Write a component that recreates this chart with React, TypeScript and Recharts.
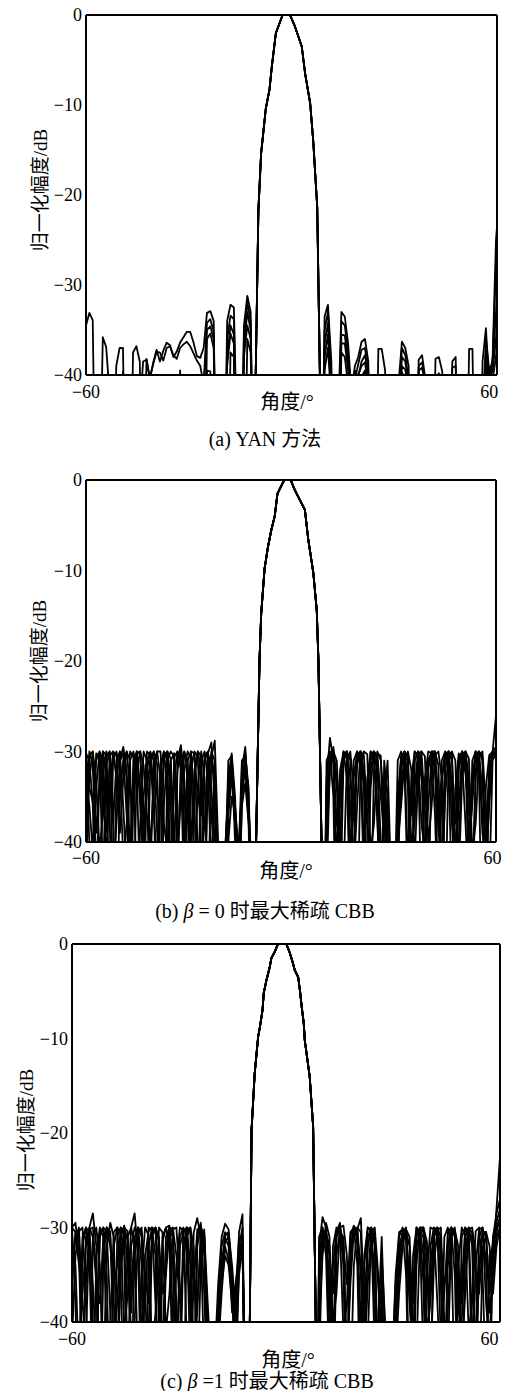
import { LineChart, Line, XAxis, YAxis, ReferenceLine } from 'recharts';

// angle grid of the sidelobe regions (deg)
const leftAngles = [
  -60, -59, -58, -57, -56, -55, -54, -53, -52, -51,
  -50, -49, -48, -47, -46, -45, -44, -43, -42, -41,
  -40, -39, -38, -37, -36, -35, -34, -33, -32, -31,
  -30, -29, -28, -27, -26, -25, -24, -23, -22, -21,
  -20, -19, -18, -17, -16, -15, -14, -13, -12, -11,
];
const rightAngles = [
  11, 12, 13, 14, 15, 16, 17, 18, 19, 20,
  21, 22, 23, 24, 25, 26, 27, 28, 29, 30,
  31, 32, 33, 34, 35, 36, 37, 38, 39, 40,
  41, 42, 43, 44, 45, 46, 47, 48, 49, 50,
  51, 52, 53, 54, 55, 56, 57, 58, 59, 60,
  61, 62, 63,
];

const yTicks = [0, -10, -20, -30, -40];
const xTicks = [-60, 60];

// main lobe, shared by every trace of a panel
const mainAnglesA = [-10, -9.5, -8.7, -7.9, -6.5, -5.4, -4.7, -3.5, -2.8, -1.5, 0.7, 2.2, 4.2, 5.2, 6.7, 7.6, 8.8, 9.6, 10];
const mainLobeA = [-60, -40, -21.7, -15.4, -10.4, -8.3, -5.7, -2, -1.3, 0, 0, -1.3, -3.5, -6.5, -9.8, -13.9, -21.3, -40, -60];

const mainAnglesB = [-10, -9.8, -8.8, -8.3, -7.3, -6.3, -5.3, -4.3, -3.5, -1.5, 0.4, 1.6, 3.1, 4.6, 5.6, 7.1, 8.1, 8.6, 9.5, 10];
const mainLobeB = [-60, -40, -20, -14.8, -9.8, -7.4, -5.5, -4, -1.5, 0, 0, -1.1, -2.2, -3.3, -6.6, -10.3, -14.4, -20, -40, -60];

const mainAnglesC = [-10, -8.9, -8.4, -7.5, -6.5, -6, -5.25, -4.9, -4.1, -3.15, -2.7, -1.7, -0.8, 1.6, 2.6, 3.4, 4, 5, 5.5, 6, 6.6, 6.9, 8.3, 9.3, 10.05, 10.5];
const mainLobeC = [-55, -40, -19.7, -13.7, -9.8, -8.8, -7, -5.2, -3.8, -2.4, -1.5, -0.8, 0, 0, -0.95, -1.9, -2.75, -3.5, -4.9, -6.6, -8.4, -10.2, -14, -19.3, -40, -55];

// (a) YAN
const yanLeft = [
  [-34.5, -33.1, -33.9, -60, -55, -35.8, -36.9, -42, -60, -39,
    -37, -37, -60, -60, -37.5, -36.8, -38.5, -60, -38.2, -40.5,
    -38.6, -37.2, -38.5, -37.3, -36.4, -36.7, -38, -37.4, -36.4, -35.8,
    -35.2, -35.2, -36.4, -37.9, -38.1, -37, -33.1, -32.9, -34, -60,
    -60, -60, -34, -32.2, -32.5, -48, -60, -34.5, -31.2, -33],
  [-60, -60, -60, -60, -60, -60, -60, -60, -60, -60,
    -60, -60, -60, -60, -60, -60, -44, -38.5, -38.3, -40.3,
    -38.8, -37.4, -37.5, -38.4, -37, -36.8, -37.8, -38.2, -37, -36.6,
    -36.3, -36.8, -37.6, -38.4, -39, -41, -34.2, -33.8, -35.2, -60,
    -60, -60, -36, -33.4, -33.8, -50, -60, -35.5, -32, -34],
  [-60, -60, -60, -60, -60, -60, -60, -60, -60, -60,
    -60, -39.6, -60, -60, -60, -60, -60, -60, -60, -60,
    -60, -60, -60, -60, -60, -60, -60, -60, -39.5, -60,
    -60, -60, -60, -60, -60, -42, -35, -34.6, -36, -60,
    -60, -60, -38, -34.5, -35.5, -60, -60, -37, -33, -35],
  [-60, -60, -60, -60, -60, -60, -60, -60, -60, -60,
    -60, -60, -60, -60, -60, -60, -60, -60, -60, -60,
    -60, -60, -60, -60, -60, -60, -60, -60, -60, -60,
    -60, -60, -60, -60, -60, -60, -36, -35.4, -37, -60,
    -60, -60, -39, -35.4, -36.5, -60, -60, -38, -34.5, -36],
  [-60, -60, -60, -60, -60, -60, -60, -60, -60, -60,
    -60, -60, -60, -60, -60, -60, -60, -60, -60, -60,
    -60, -60, -60, -60, -60, -60, -60, -60, -60, -60,
    -60, -60, -60, -60, -60, -60, -39.5, -39.6, -60, -60,
    -60, -60, -60, -37.5, -38, -60, -60, -60, -36, -37.5],
];
const yanRight = [
  [-33.5, -32.2, -38.5, -60, -45, -33, -33.5, -36.5, -42, -39,
    -38, -36.3, -36, -38.5, -60, -60, -37.1, -37.1, -39.5, -60,
    -60, -60, -41, -36.3, -37, -39, -60, -60, -38.3, -37.8,
    -40.5, -60, -60, -38.2, -38, -39.6, -60, -60, -38.5, -38,
    -60, -60, -60, -37.1, -37.1, -60, -60, -38.5, -34.8, -41,
    -38, -25, -20],
  [-35, -33, -40, -60, -48, -34, -34.5, -37.5, -44, -40.5,
    -38.8, -37.2, -37, -39.5, -60, -60, -60, -60, -60, -60,
    -60, -60, -44, -37, -37.8, -40.5, -60, -60, -39, -38.6,
    -41, -60, -60, -40.5, -39.8, -60, -60, -60, -39.2, -39,
    -60, -60, -60, -60, -60, -60, -60, -45, -36, -39.5,
    -38.5, -28, -24],
  [-36.5, -34.2, -41, -60, -50, -35.5, -35.6, -38.5, -41, -39.5,
    -40.2, -38.5, -37.8, -40, -60, -60, -60, -60, -60, -60,
    -60, -60, -45, -38, -38.5, -41, -60, -60, -39.5, -39.2,
    -41, -60, -60, -60, -60, -60, -60, -60, -60, -60,
    -60, -60, -60, -60, -60, -60, -60, -50, -37.5, -40,
    -39, -33, -28],
  [-38, -35.5, -42, -60, -52, -36.5, -36.5, -39.5, -45, -41,
    -40, -39, -38.6, -41, -60, -60, -60, -60, -60, -60,
    -60, -60, -46, -39, -39.4, -42, -60, -60, -60, -60,
    -60, -60, -60, -60, -60, -60, -60, -60, -60, -60,
    -60, -60, -60, -60, -60, -60, -60, -60, -38.8, -40.5,
    -39.5, -36, -30],
  [-39.5, -37, -43, -60, -55, -37.5, -38, -41, -60, -60,
    -41, -40.2, -39.5, -42, -60, -60, -60, -60, -60, -60,
    -60, -60, -60, -39.7, -40.5, -60, -60, -60, -60, -60,
    -60, -60, -60, -60, -60, -60, -60, -60, -60, -60,
    -60, -60, -60, -60, -60, -60, -60, -60, -39.5, -41,
    -40.5, -38, -34],
];

// (b) beta = 0
const cbb0Left = [
  [-30.2, -31, -36, -48, -31.5, -30, -30.4, -38, -52, -33,
    -30, -30.5, -37, -45, -31, -30, -34, -50, -32, -30.1,
    -31, -39, -44, -30.5, -30, -35, -58, -31, -29.3, -33,
    -46, -32, -30, -30.6, -42, -38, -30.2, -29, -36, -55,
    -48, -42, -33, -30.2, -35, -50, -36, -30, -35, -52],
  [-36, -30, -31.5, -42, -50, -32, -30, -31, -45, -38,
    -31, -30.2, -33, -55, -34, -30, -30.3, -40, -47, -31,
    -30, -31.4, -50, -36, -30, -30.8, -39, -44, -31, -30,
    -33, -60, -33, -30, -32, -50, -31, -30.4, -33, -46,
    -55, -45, -31, -30.5, -38, -46, -32, -29.5, -36, -48],
  [-40, -33, -30, -33, -41, -37, -30.5, -30, -38, -31,
    -30, -36, -44, -31, -30, -32.5, -46, -35, -30, -30.4,
    -37, -42, -31.5, -30, -34, -52, -30.6, -30, -31, -47,
    -35, -30, -30.2, -41, -44, -31, -30, -37, -42, -44,
    -47, -60, -34, -31, -36, -42, -31, -30.5, -34, -50],
  [-30, -34, -35.5, -31, -30, -36, -39, -30.5, -30, -33,
    -35, -31, -30, -34, -36.5, -30.2, -30, -38, -34, -31,
    -30, -35, -37, -30.4, -30, -33, -40, -32, -30, -34,
    -38, -31, -30.5, -35, -37, -30.4, -30, -34, -40, -45,
    -42, -50, -36, -32, -38, -44, -33, -31, -37, -46],
  [-45, -30.4, -30, -39, -34, -30, -33, -48, -30.8, -30,
    -32, -42, -38, -30, -30.6, -47, -38, -30, -31, -41,
    -33, -30, -30, -38, -41, -31, -30.2, -36, -60, -32,
    -30, -30.8, -45, -34, -30, -33, -48, -30.6, -28.8, -40,
    -60, -41, -35, -30.8, -40, -43, -33.5, -31, -38, -60],
  [-33, -36, -41, -30.2, -30.5, -44, -31.5, -30, -36, -58,
    -31, -29.5, -32, -41, -32, -30, -36, -42, -31, -30,
    -34, -55, -32, -30, -31, -44, -33, -30, -32, -40,
    -31, -30, -36, -47, -31, -30, -33, -43, -31.5, -45,
    -50, -46, -37, -33, -36, -41, -34.5, -32, -36, -44],
  [-31, -40, -47, -34, -30, -31, -42, -34, -30, -30.5,
    -39, -33, -30, -31, -48, -32, -30, -31.5, -37, -44,
    -31, -30, -33, -56, -31, -30, -30.5, -42, -35, -30,
    -31, -40, -32, -30, -30.5, -45, -33, -30, -31, -48,
    -44, -55, -40, -35, -37, -47, -36, -33.5, -38, -45],
];
const cbb0Right = [
  [-33, -28.5, -31, -42, -32, -30, -33, -48, -31, -30,
    -30.5, -40, -35, -30, -30.2, -38, -47, -33, -41, -50,
    -55, -35, -30.5, -30, -34, -50, -31, -30, -31.5, -44,
    -32, -30, -30, -39, -41, -30.5, -30, -34, -52, -31,
    -30, -30.5, -40, -36, -30, -30.2, -37, -48, -31, -30,
    -26, -23, -21],
  [-45, -31, -29.5, -33, -48, -31, -30, -31, -44, -36,
    -30, -30.4, -37, -49, -32, -30, -31, -36, -48, -60,
    -60, -44, -32, -30, -30.5, -40, -38, -30.2, -30, -36,
    -48, -31, -30, -31.5, -45, -35, -30, -30.3, -40, -40,
    -31, -30, -33, -50, -32, -30, -30.6, -43, -36, -30,
    -29.5, -28, -27],
  [-38, -30, -30.5, -38, -40, -30.5, -30, -36, -42, -31,
    -30, -32, -45, -34, -30, -31, -40, -42, -34, -45,
    -48, -31, -30, -32, -46, -33, -30, -30.4, -38, -41,
    -31, -30, -31, -47, -33, -30, -30.5, -38, -44, -32,
    -30, -31, -45, -34, -30, -30.4, -39, -42, -32, -30,
    -30.5, -31, -32],
  [-36, -31, -30, -34, -36, -30.2, -30, -33, -37, -31.5,
    -30, -33, -38, -32, -30, -30.5, -35, -39, -40, -44,
    -46, -38, -31, -30, -33, -37, -31, -30, -33, -36,
    -31, -30.2, -32, -36, -33, -30.4, -30, -34, -38, -31,
    -30, -32.5, -37, -33, -30, -30.6, -34, -38, -33, -30.2,
    -30, -30.5, -31],
  [-31, -30, -35, -55, -33, -30.5, -30, -40, -37, -30.4,
    -30, -34, -50, -31, -30, -30.8, -46, -36, -31, -44,
    -52, -37, -30.6, -30.3, -42, -36, -30, -30.6, -47, -33,
    -30, -30.2, -37, -50, -31, -30, -32, -46, -34, -30.2,
    -31, -38, -46, -31, -30, -33, -55, -34, -30.4, -30,
    -30, -30, -30],
  [-40, -32, -30, -31, -39, -44, -31, -30, -34, -52,
    -32, -30, -30.3, -41, -38, -30.2, -30.5, -43, -37, -48,
    -44, -41, -34, -30.5, -31, -45, -34, -30, -31, -43,
    -36, -30.5, -30, -35, -52, -32, -30, -31, -42, -36,
    -30.3, -30, -35, -44, -33, -30, -31, -45, -35, -30.5,
    -30, -29.5, -29],
  [-34, -30.5, -31, -45, -35, -30, -30.8, -42, -33, -30,
    -31, -44, -33, -30, -31, -36, -55, -31, -35, -47,
    -50, -40, -36, -31, -30, -32, -42, -33, -30, -30.5,
    -40, -36, -30.4, -30, -33, -49, -31, -30, -31, -44,
    -33, -30, -30.8, -41, -38, -30.5, -30, -36, -45, -31,
    -30.2, -30, -30],
];

// (c) beta = 1
const cbb1Left = [
  [-30, -29.5, -33, -47, -31, -30.2, -36, -44, -30.5, -30,
    -35, -52, -32, -30, -30.6, -41, -37, -30, -28.5, -33,
    -49, -33, -30.4, -30, -38, -45, -31, -30, -32, -46,
    -34, -30, -30.3, -42, -40, -30.5, -29, -31, -45, -50,
    -55, -44, -36, -31, -29.6, -30.2, -35, -41, -30.5, -28.6],
  [-32, -34, -45, -31, -30, -30.5, -40, -46, -31, -30,
    -30.5, -39, -48, -31, -30, -33, -52, -32, -30, -30.8,
    -41, -38, -30, -30.2, -33, -55, -31.5, -30, -29.8, -40,
    -47, -31, -30, -31, -44, -36, -30.2, -30, -37, -48,
    -46, -50, -38, -32, -30.5, -31, -37, -45, -32, -30],
  [-36, -31, -30, -38, -42, -30, -28.5, -32, -50, -33,
    -30, -30.4, -43, -38, -30, -30.5, -44, -36, -31, -30,
    -34, -56, -32, -30, -30.3, -40, -43, -31, -30, -34,
    -51, -32, -30.5, -30, -39, -47, -31, -29.5, -33, -44,
    -58, -47, -40, -34, -31, -32, -39, -37, -31, -31.5],
  [-30, -30.5, -34, -37, -32, -30, -31, -36, -38, -31,
    -30, -32, -36, -34, -30.4, -30, -34, -39, -32, -30,
    -30.5, -35, -38, -31, -30, -31.5, -37, -35, -30.2, -30,
    -33, -38, -34, -30.2, -30, -35, -38, -32, -30.5, -38,
    -45, -52, -41, -36, -33, -34, -38, -36, -33, -32.5],
  [-42, -33, -30.4, -30, -37, -52, -31, -30, -34, -47,
    -32, -29.5, -31, -46, -35, -30, -30.4, -42, -40, -30.4,
    -30, -36, -48, -31, -30, -31, -47, -34, -30, -30.6,
    -41, -44, -30.4, -30, -34, -55, -32, -30, -30.8, -42,
    -50, -45, -43, -37, -32, -33.5, -36, -48, -34, -31],
  [-30, -38, -55, -32, -30, -33, -49, -33, -30, -31,
    -41, -40, -30.5, -30, -36, -48, -31, -30, -32, -45,
    -35, -30, -30.8, -43, -39, -30, -30.5, -41, -37, -30.2,
    -30, -36, -50, -31, -30, -32, -48, -34, -30.2, -44,
    -52, -48, -39, -34, -31.5, -31, -35, -43, -35, -32],
  [-34, -30.5, -31, -44, -36, -30.2, -30, -35, -58, -32,
    -30, -31, -38, -44, -31, -29.8, -31.5, -47, -33, -30,
    -31, -44, -41, -30.5, -30, -36, -50, -32, -30.3, -31,
    -38, -48, -32, -30, -30.6, -44, -39, -30.3, -31, -40,
    -47, -53, -42, -35, -30.8, -30.5, -34, -39, -33, -30.8],
];
const cbb1Right = [
  [-32, -28.9, -30, -36, -47, -31, -30, -31.5, -44, -34,
    -30, -30.2, -29, -38, -42, -30.5, -30, -35, -50, -46,
    -55, -48, -42, -33, -30.5, -30, -37, -45, -31, -30,
    -30.5, -41, -38, -30.2, -30, -33, -52, -32, -30, -30.6,
    -43, -36, -30, -30.4, -40, -42, -31, -30, -34, -48,
    -33, -28, -22.5],
  [-45, -31, -30.5, -32, -40, -37, -30, -29.8, -33, -48,
    -34, -30, -30.5, -44, -36, -30, -30.8, -47, -38, -44,
    -58, -52, -38, -31, -30, -31, -48, -36, -30, -30.3,
    -36, -52, -32, -30, -30.4, -42, -37, -30.5, -30, -35,
    -50, -31, -30, -31, -46, -34, -30.2, -30, -38, -43,
    -31, -28.5, -27],
  [-37, -30, -31, -42, -34, -30.5, -29.5, -33, -49, -32,
    -30, -31, -46, -34, -30, -30.4, -39, -44, -35, -50,
    -50, -45, -35, -30.5, -30.2, -35, -51, -33, -30, -31,
    -44, -35, -30, -30.2, -38, -46, -31, -30, -32, -47,
    -34, -30, -30.8, -41, -38, -30.4, -30, -35, -47, -33,
    -32, -30, -29],
  [-34, -31, -30.5, -33, -37, -31, -30.3, -32, -36, -33,
    -30.5, -31, -34, -38, -32, -30.2, -31, -36, -40, -45,
    -47, -44, -36, -32, -30.6, -31, -35, -38, -32, -30.5,
    -31, -35, -37, -31, -30.2, -32, -36, -34, -30.6, -30.4,
    -34, -38, -32, -30.5, -31, -35, -37, -32, -33, -36,
    -31, -29.5, -28],
  [-31, -30, -33, -46, -32, -30, -30.5, -41, -38, -30.5,
    -30, -34, -52, -33, -30, -30.2, -43, -40, -31, -42,
    -60, -50, -40, -35, -31, -30.4, -32, -49, -34, -30,
    -30, -33, -47, -31, -30, -31, -43, -39, -30.4, -30,
    -35, -49, -33, -30, -30.6, -44, -35, -30.3, -31, -39,
    -35, -31, -30],
  [-40, -33, -29.5, -31, -50, -33, -30.5, -31, -45, -36,
    -30.4, -30, -35, -48, -31, -30, -32, -46, -36, -47,
    -52, -46, -44, -37, -32, -30.2, -31, -40, -43, -31,
    -30, -31.5, -45, -34, -30.3, -30, -40, -44, -31, -30.2,
    -32, -44, -37, -30.2, -30, -33, -48, -33, -30.5, -32,
    -37, -32, -30],
  [-33, -30.3, -31, -38, -43, -30.6, -30, -34, -52, -31,
    -29.8, -30.5, -40, -41, -31, -30.4, -35, -53, -33, -40,
    -48, -55, -41, -33, -31, -30.6, -38, -43, -31, -30.2,
    -33, -48, -34, -30.5, -30, -36, -50, -32, -30, -31,
    -39, -40, -31, -30, -32, -47, -34, -30.4, -30.5, -37,
    -34, -30.5, -29],
];

type Pt = { x: number; y: number };

function buildTrace(left: number[], right: number[], mainX: number[], mainY: number[]): Pt[] {
  return [
    ...left.map((y, i) => ({ x: leftAngles[i], y })),
    ...mainY.map((y, i) => ({ x: mainX[i], y })),
    ...right.map((y, i) => ({ x: rightAngles[i], y })),
  ];
}

const serifFont = "Liberation Serif, Times New Roman, Times, serif";
const mixedFont = "Liberation Serif, Times New Roman, Noto Sans CJK SC, serif";
const fmt = (v: number) => (v < 0 ? '\u2212' + Math.abs(v) : String(v));

interface PanelProps {
  top: number;
  plotLeft: number;
  plotRight: number;
  plotHeight: number;
  xMax: number;
  tickGap: number;
  traces: Pt[][];
}

function Panel({ top, plotLeft, plotRight, plotHeight, xMax, tickGap, traces }: PanelProps) {
  const width = 506;
  const mt = 10;
  const xAxisH = 30;
  const tickStyle = { fill: '#000', fontSize: 18, fontFamily: serifFont };
  return (
    <div style={{ position: 'absolute', left: 0, top: top - mt, fontFamily: serifFont }}>
      <LineChart
        width={width}
        height={mt + plotHeight + xAxisH}
        margin={{ top: mt, right: width - plotRight, bottom: 0, left: 0 }}
        style={{ fontFamily: serifFont }}
      >
        <XAxis
          type="number"
          dataKey="x"
          domain={[-60, xMax]}
          allowDataOverflow
          ticks={xTicks}
          interval={0}
          tickFormatter={fmt}
          tick={tickStyle}
          tickLine={false}
          tickSize={tickGap}
          tickMargin={0}
          height={xAxisH}
          axisLine={{ stroke: '#000', strokeWidth: 2 }}
        />
        <YAxis
          type="number"
          domain={[-40, 0]}
          allowDataOverflow
          ticks={yTicks}
          interval={0}
          tickFormatter={fmt}
          tick={tickStyle}
          tickLine={false}
          tickSize={2}
          tickMargin={2}
          width={plotLeft}
          axisLine={{ stroke: '#000', strokeWidth: 2 }}
        />
        <ReferenceLine y={0} stroke="#000" strokeWidth={2} />
        <ReferenceLine x={xMax} stroke="#000" strokeWidth={2} />
        {traces.map((d, i) => (
          <Line
            key={i}
            data={d}
            dataKey="y"
            type="linear"
            dot={false}
            activeDot={false}
            stroke="#000"
            strokeWidth={1.8}
            strokeLinejoin="round"
            isAnimationActive={false}
          />
        ))}
      </LineChart>
    </div>
  );
}

function Text({ x, y, size, rotate, children }: { x: number; y: number; size: number; rotate?: boolean; children: React.ReactNode }) {
  return (
    <div
      style={{
        position: 'absolute',
        left: x,
        top: y,
        transform: `translate(-50%, -50%)${rotate ? ' rotate(-90deg)' : ''}`,
        whiteSpace: 'nowrap',
        fontSize: size,
        fontFamily: mixedFont,
        color: '#000',
        lineHeight: 1,
      }}
    >
      {children}
    </div>
  );
}

export default function App() {
  const yanTraces = yanLeft.map((l, i) => buildTrace(l, yanRight[i], mainAnglesA, mainLobeA));
  const b0Traces = cbb0Left.map((l, i) => buildTrace(l, cbb0Right[i], mainAnglesB, mainLobeB));
  const b1Traces = cbb1Left.map((l, i) => buildTrace(l, cbb1Right[i], mainAnglesC, mainLobeC));

  return (
    <div style={{ position: 'absolute', left: 0, top: 0, width: 506, height: 1391, background: '#fff' }}>
      <Panel top={15} plotLeft={86} plotRight={497} plotHeight={360} xMax={62.3} tickGap={10} traces={yanTraces} />
      <Text x={40} y={190} size={19} rotate>归一化幅度/dB</Text>
      <Text x={287} y={402} size={20}>角度/°</Text>
      <Text x={265} y={439} size={20}>(a) YAN 方法</Text>

      <Panel top={480} plotLeft={86} plotRight={496} plotHeight={362} xMax={61} tickGap={9} traces={b0Traces} />
      <Text x={39} y={661} size={19} rotate>归一化幅度/dB</Text>
      <Text x={286} y={871} size={20}>角度/°</Text>
      <Text x={265} y={911} size={20}>(b) <i>β</i> = 0 时最大稀疏 CBB</Text>

      <Panel top={944} plotLeft={72} plotRight={500} plotHeight={378} xMax={63} tickGap={10} traces={b1Traces} />
      <Text x={26} y={1130} size={19} rotate>归一化幅度/dB</Text>
      <Text x={288} y={1360} size={20}>角度/°</Text>
      <Text x={267} y={1381} size={20}>(c) <i>β</i> =1 时最大稀疏 CBB</Text>
    </div>
  );
}
